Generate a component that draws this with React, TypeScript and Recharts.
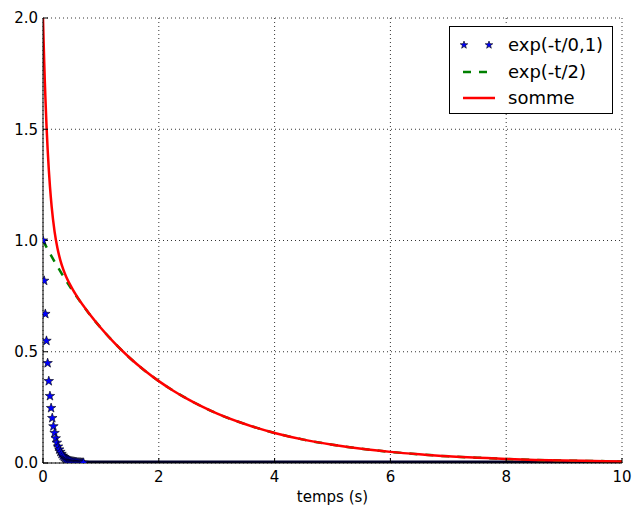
import { ComposedChart, Line, Scatter, XAxis, YAxis, CartesianGrid } from 'recharts';

// exp(-t/0,1) : stars, read every 0.02 s until they sit on the axis
const starT = [0, 0.02, 0.04, 0.06, 0.08, 0.1, 0.12, 0.14, 0.16, 0.18, 0.2, 0.22, 0.24, 0.26, 0.28, 0.3, 0.32, 0.34, 0.36, 0.38, 0.4, 0.42, 0.44, 0.46, 0.48, 0.5, 0.52, 0.54, 0.56, 0.58, 0.6, 0.62, 0.64, 0.66, 0.68, 0.7];
const starV = [1, 0.819, 0.670, 0.549, 0.449, 0.368, 0.301, 0.247, 0.202, 0.165, 0.135, 0.111, 0.091, 0.074, 0.061, 0.050, 0.041, 0.033, 0.027, 0.022, 0.018, 0.015, 0.012, 0.010, 0.008, 0.007, 0.006, 0.005, 0.004, 0.003, 0.002, 0.002, 0.002, 0.001, 0.001, 0.001];
// the rest of the stars are packed on zero up to 10 s
const tailT = [0.6, 10];
const tailV = [0, 0];

// exp(-t/2)
const greenT = [0, 0.1, 0.2, 0.3, 0.4, 0.5, 0.6, 0.8, 1, 1.5, 2, 2.5, 3, 3.5, 4, 4.5, 5, 5.5, 6, 6.5, 7, 7.5, 8, 8.5, 9, 9.5, 10];
const greenV = [1, 0.951, 0.905, 0.861, 0.819, 0.779, 0.741, 0.670, 0.607, 0.472, 0.368, 0.287, 0.223, 0.174, 0.135, 0.105, 0.082, 0.064, 0.050, 0.039, 0.030, 0.024, 0.018, 0.014, 0.011, 0.009, 0.007];

// somme
const sumT = [0, 0.01, 0.02, 0.03, 0.04, 0.06, 0.08, 0.1, 0.12, 0.15, 0.2, 0.25, 0.3, 0.35, 0.4, 0.5, 0.6, 0.8, 1, 1.25, 1.5, 1.75, 2, 2.25, 2.5, 2.75, 3, 3.5, 4, 4.5, 5, 5.5, 6, 6.5, 7, 7.5, 8, 8.5, 9, 9.5, 10];
const sumV = [2.0, 1.900, 1.809, 1.726, 1.651, 1.519, 1.410, 1.319, 1.243, 1.151, 1.040, 0.965, 0.911, 0.870, 0.837, 0.786, 0.743, 0.671, 0.607, 0.535, 0.472, 0.417, 0.368, 0.325, 0.287, 0.253, 0.223, 0.174, 0.135, 0.105, 0.082, 0.064, 0.050, 0.039, 0.030, 0.024, 0.018, 0.014, 0.011, 0.009, 0.007];

const xTicks = [0, 2, 4, 6, 8, 10];
const yTicks = [0, 0.5, 1, 1.5, 2];

const legendLabels = ['exp(-t/0,1)', 'exp(-t/2)', 'somme'];

const starData = starT.map((t, i) => ({ t, v: starV[i] }));
const tailData = tailT.map((t, i) => ({ t, v: tailV[i] }));
const greenData = greenT.map((t, i) => ({ t, v: greenV[i] }));
const sumData = sumT.map((t, i) => ({ t, v: sumV[i] }));

const FONT = '"DejaVu Sans", sans-serif';

function starPoints(cx: number, cy: number, R: number) {
  const pts: string[] = [];
  for (let k = 0; k < 10; k++) {
    const a = ((-90 + k * 36) * Math.PI) / 180;
    const r = k % 2 === 0 ? R : R * 0.4;
    pts.push(`${cx + r * Math.cos(a)},${cy + r * Math.sin(a)}`);
  }
  return pts.join(' ');
}

const StarShape = (props: any) => {
  const { cx, cy } = props;
  if (cx == null || cy == null) return null;
  return <polygon points={starPoints(cx, cy, 5)} fill="#0000ff" stroke="#000" strokeWidth={0.6} />;
};

function Legend() {
  const rowTop = [5, 31.5, 58];
  return (
    <div
      style={{
        position: 'absolute',
        left: 449,
        top: 26,
        width: 164,
        height: 88,
        boxSizing: 'border-box',
        border: '1px solid #000',
        background: '#fff',
        fontFamily: FONT,
        fontSize: 18,
      }}
    >
      {legendLabels.map((label, i) => (
        <div key={label} style={{ position: 'absolute', left: 0, top: rowTop[i], height: 26, width: 162 }}>
          <svg width={58} height={26} style={{ position: 'absolute', left: 0, top: 0 }}>
            {i === 0 && (
              <>
                <polygon points={starPoints(14, 13, 4)} fill="#0000ff" stroke="#000" strokeWidth={0.6} />
                <polygon points={starPoints(39, 13, 4)} fill="#0000ff" stroke="#000" strokeWidth={0.6} />
              </>
            )}
            {i === 1 && <line x1={13} y1={13} x2={45} y2={13} stroke="#008000" strokeWidth={2.5} strokeDasharray="8 8" />}
            {i === 2 && <line x1={13} y1={13} x2={45} y2={13} stroke="#ff0000" strokeWidth={2.5} />}
          </svg>
          <span style={{ position: 'absolute', left: 58, top: 0, lineHeight: '26px', whiteSpace: 'nowrap', color: '#000' }}>
            {label}
          </span>
        </div>
      ))}
    </div>
  );
}

export default function App() {
  return (
    <div style={{ position: 'absolute', left: 0, top: 0, width: 644, height: 509, background: '#fff', fontFamily: FONT }}>
      <ComposedChart width={644} height={509} margin={{ top: 18, right: 22, bottom: 16, left: 3 }}>
        <CartesianGrid stroke="#000" strokeDasharray="1 3" strokeWidth={0.8} />
        <XAxis
          dataKey="t"
          type="number"
          domain={[0, 10]}
          ticks={xTicks}
          height={30}
          tickSize={-5}
          tickMargin={13}
          axisLine={{ stroke: '#000' }}
          tickLine={{ stroke: '#000' }}
          tick={{ fill: '#000', fontSize: 15, fontFamily: FONT }}
          allowDataOverflow
        />
        <XAxis
          xAxisId="top"
          orientation="top"
          type="number"
          domain={[0, 10]}
          ticks={xTicks}
          height={0}
          tickSize={-5}
          axisLine={{ stroke: '#000' }}
          tickLine={{ stroke: '#000' }}
          tick={false}
        />
        <YAxis
          type="number"
          domain={[0, 2]}
          ticks={yTicks}
          width={40}
          tickSize={-5}
          tickMargin={10}
          axisLine={{ stroke: '#000' }}
          tickLine={{ stroke: '#000' }}
          tick={{ fill: '#000', fontSize: 15, fontFamily: FONT }}
          tickFormatter={(v: number) => v.toFixed(1)}
          allowDataOverflow
        />
        <YAxis
          yAxisId="right"
          orientation="right"
          type="number"
          domain={[0, 2]}
          ticks={yTicks}
          width={0}
          tickSize={-5}
          axisLine={{ stroke: '#000' }}
          tickLine={{ stroke: '#000' }}
          tick={false}
        />
        <Line data={tailData} dataKey="v" type="linear" stroke="#00002a" strokeWidth={5} dot={false} isAnimationActive={false} />
        <Scatter data={starData} dataKey="v" shape={StarShape} isAnimationActive={false} />
        <Line data={greenData} dataKey="v" type="monotone" stroke="#008000" strokeWidth={2.5} strokeDasharray="8 8" dot={false} isAnimationActive={false} />
        <Line data={sumData} dataKey="v" type="monotone" stroke="#ff0000" strokeWidth={2.5} dot={false} isAnimationActive={false} />
      </ComposedChart>
      <Legend />
      <div
        style={{
          position: 'absolute',
          left: 43,
          width: 579,
          top: 488,
          textAlign: 'center',
          fontSize: 15,
          lineHeight: '18px',
          color: '#000',
        }}
      >
        temps (s)
      </div>
    </div>
  );
}
